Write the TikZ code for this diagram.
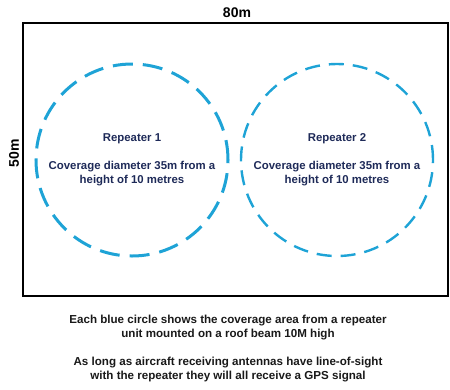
\documentclass[tikz,border=0pt]{standalone}
\usepackage{fontspec}
\setmainfont{Liberation Sans}
\definecolor{repblue}{RGB}{30,163,214}
\definecolor{repnavy}{RGB}{30,42,88}
\definecolor{captext}{RGB}{25,25,25}
\tikzset{
  coverage/.style={circle,draw=repblue,text=repnavy,minimum size=192bp,
    align=center,font=\bfseries\fontsize{11.4bp}{14bp}\selectfont},
  dimlabel/.style={font=\bfseries\fontsize{14bp}{16bp}\selectfont},
  caption/.style={text=captext,align=center,font=\bfseries\fontsize{11.6bp}{14bp}\selectfont}
}
\begin{document}
\begin{tikzpicture}[x=1bp,y=-1bp]
\useasboundingbox (0,0) rectangle (450,389);
\draw[line width=2bp] (23,23) rectangle (448,296);
\node[dimlabel] (width) at (237,13) {80m};
\node[dimlabel,rotate=90] (height) at (14,153) {50m};
% the two repeaters
\node[coverage,line width=3bp,dash pattern=on 20bp off 10bp] (cov1) at (132,160)
  {Repeater 1\\[14bp]Coverage diameter 35m from a\\height of 10 metres};
\node[coverage,line width=2.4bp,dash pattern=on 15bp off 9bp] (cov2) at (337,160)
  {Repeater 2\\[14bp]Coverage diameter 35m from a\\height of 10 metres};
% notes below the plan
\node[caption] (note1) at (228,328)
  {Each blue circle shows the coverage area from a repeater\\unit mounted on a roof beam 10M high};
\node[caption] (note2) at (228,370)
  {As long as aircraft receiving antennas have line-of-sight\\with the repeater they will all receive a GPS signal};
\end{tikzpicture}
\end{document}
